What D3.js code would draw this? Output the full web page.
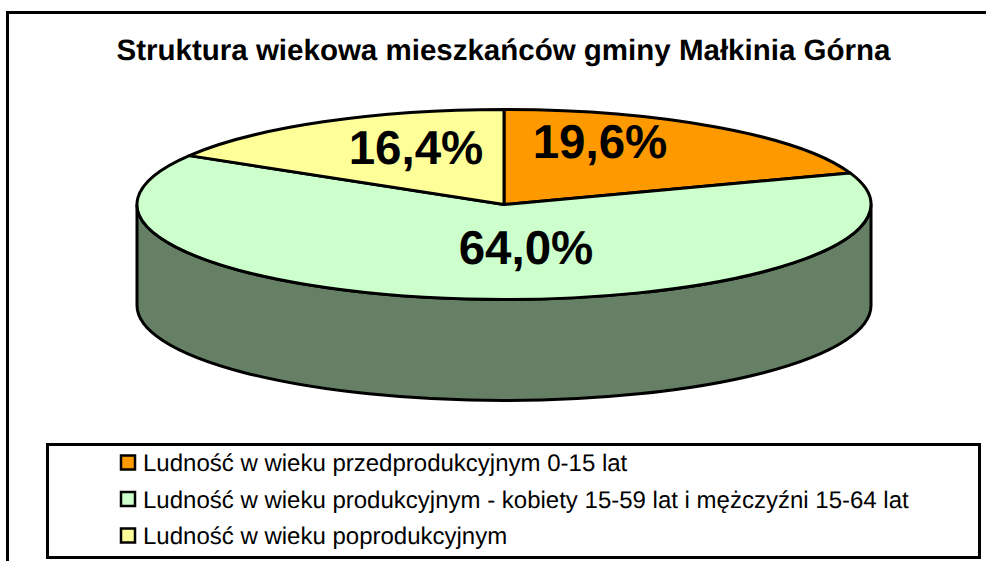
<!DOCTYPE html>
<html><head><meta charset="utf-8">
<script src="https://cdn.jsdelivr.net/npm/d3@7"></script>
<style>html,body{margin:0;padding:0;background:#fff}svg{display:block}text{font-family:"Liberation Sans",Arial,sans-serif;fill:#000;text-rendering:geometricPrecision}</style>
</head><body><svg width="986" height="561"></svg>
<script>
const titleText = "Struktura wiekowa mieszkańców gminy Małkinia Górna";
const categories = ["Ludność w wieku przedprodukcyjnym 0-15 lat","Ludność w wieku produkcyjnym - kobiety 15-59 lat i mężczyźni 15-64 lat","Ludność w wieku poprodukcyjnym"];
const values = [19.6, 64.0, 16.4];
const labels = ["19,6%","64,0%","16,4%"];
const colors = ["#ff9900","#ccffcc","#ffff99"];
const wallColor = "#668066";

const svg = d3.select("svg");
svg.append("path").attr("d","M7.5,561V12.5H986").attr("fill","none").attr("stroke","#000").attr("stroke-width",3);
svg.append("text").attr("x",503.5).attr("y",60).attr("text-anchor","middle").attr("font-weight","bold").attr("font-size",29.5).text(titleText);

const cx=504, cy=204.5, rx=367, ry=95, depth=101;
const wall=`M${cx-rx},${cy}V${cy+depth}A${rx},${ry} 0 0 0 ${cx+rx},${cy+depth}V${cy}A${rx},${ry} 0 0 1 ${cx-rx},${cy}Z`;
svg.append("path").attr("d",wall).attr("fill",wallColor).attr("stroke","#000").attr("stroke-width",3);

const pie=d3.pie().sort(null)(values);
const arc=d3.arc().innerRadius(0).outerRadius(rx);
const face=svg.append("g").attr("transform",`translate(${cx},${cy}) scale(1,${ry/rx})`);
face.selectAll("path").data(pie).join("path").attr("d",arc).attr("fill",(d,i)=>colors[i])
  .attr("stroke","#000").attr("stroke-width",3).attr("vector-effect","non-scaling-stroke").attr("stroke-linejoin","round");

const labelPos=[[600,158],[526,264],[416,164]];
svg.selectAll("text.lab").data(labels).join("text").attr("class","lab")
  .attr("x",(d,i)=>labelPos[i][0]).attr("y",(d,i)=>labelPos[i][1]).attr("text-anchor","middle")
  .attr("font-weight","bold").attr("font-size",47.5).text(d=>d);

svg.append("rect").attr("x",47.5).attr("y",444.5).attr("width",932).attr("height",113).attr("fill","#fff").attr("stroke","#000").attr("stroke-width",3);
const y=d3.scalePoint().domain(categories).range([463,536]);
const g=svg.selectAll("g.leg").data(categories).join("g").attr("class","leg").attr("transform",d=>`translate(0,${y(d)})`);
g.append("rect").attr("x",121).attr("y",-7.5).attr("width",14).attr("height",14).attr("fill",(d,i)=>colors[i]).attr("stroke","#000").attr("stroke-width",2.5);
g.append("text").attr("x",143).attr("y",8).attr("font-size",24).text(d=>d);
</script></body></html>
